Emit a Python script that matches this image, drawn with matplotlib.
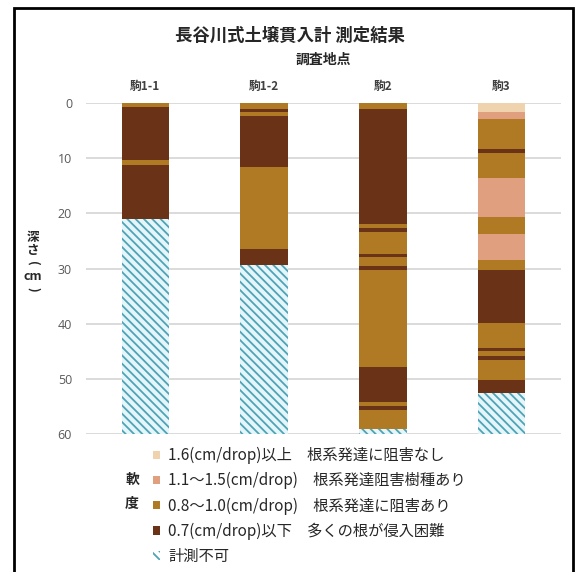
import matplotlib
matplotlib.use("Agg")
import matplotlib.pyplot as plt
from matplotlib.patches import Patch, Rectangle

plt.rcParams['font.family'] = ['Noto Sans CJK JP', 'DejaVu Sans']
plt.rcParams['hatch.linewidth'] = 1.3

# ---------------- data ----------------
sites = ['駒1-1', '駒1-2', '駒2', '駒3']

site1_bounds = [0, 0.7, 10.3, 11.2, 21.0, 60]
site1_class = ['C', 'D', 'C', 'D', 'X']

site2_bounds = [0, 1.1, 1.6, 2.4, 11.6, 26.5, 29.4, 60]
site2_class = ['C', 'D', 'C', 'D', 'C', 'D', 'X']

site3_bounds = [0, 1.0, 21.9, 22.6, 23.4, 27.4, 27.9, 29.6, 30.2, 47.9, 54.2, 55.0, 55.7, 59.1, 60]
site3_class = ['C', 'D', 'C', 'D', 'C', 'D', 'C', 'D', 'C', 'D', 'C', 'D', 'C', 'X']

site4_bounds = [0, 1.6, 2.9, 8.3, 9.1, 13.6, 20.7, 23.7, 28.5, 30.3, 39.9, 44.4, 45.0, 45.9, 46.6, 50.2, 52.6, 60]
site4_class = ['A', 'B', 'C', 'D', 'C', 'B', 'C', 'B', 'C', 'D', 'C', 'D', 'C', 'D', 'C', 'D', 'X']

class_codes = ['A', 'B', 'C', 'D', 'X']
class_labels = ['1.6(cm/drop)以上　根系発達に阻害なし',
                '1.1～1.5(cm/drop)　根系発達阻害樹種あり',
                '0.8～1.0(cm/drop)　根系発達に阻害あり',
                '0.7(cm/drop)以下　多くの根が侵入困難',
                '計測不可']
y_ticks = [0, 10, 20, 30, 40, 50, 60]

# ---------------- styles ----------------
colors = {'A': '#EFD3AE', 'B': '#E0A07F', 'C': '#B07A25', 'D': '#6A3318', 'X': '#E4F6FA'}
hatch_color = '#4FA3B6'

fig = plt.figure(figsize=(5.8, 5.72), dpi=100)
ax = fig.add_axes([86 / 580, 1 - 434 / 572, 475 / 580, 331 / 572])

all_bounds = [site1_bounds, site2_bounds, site3_bounds, site4_bounds]
all_class = [site1_class, site2_class, site3_class, site4_class]

for i, (b, c) in enumerate(zip(all_bounds, all_class)):
    for top, bot, cls in zip(b[:-1], b[1:], c):
        if cls == 'X':
            ax.bar(i, bot - top, bottom=top, width=0.4, color=colors[cls],
                   edgecolor=hatch_color, linewidth=0, hatch='\\' * 4, zorder=3)
        else:
            ax.bar(i, bot - top, bottom=top, width=0.4, color=colors[cls],
                   linewidth=0, zorder=3)

ax.set_xlim(-0.5, len(sites) - 0.5)
ax.set_ylim(60, 0)
ax.set_yticks(y_ticks)
ax.set_yticklabels([str(t) for t in y_ticks], color='#595959', fontsize=9,
                   family=['Open Sans', 'DejaVu Sans'])
ax.tick_params(axis='y', length=0, pad=10)
ax.xaxis.tick_top()
ax.set_xticks(range(len(sites)))
ax.set_xticklabels(sites, fontsize=8.5, fontweight='bold', color='#404040')
ax.tick_params(axis='x', length=0, pad=7)
ax.grid(axis='y', color='#D4D4D4', linewidth=1.2, zorder=0)
ax.set_axisbelow(True)
for s in ax.spines.values():
    s.set_visible(False)

fig.text(0.5, 1 - 36 / 572, '長谷川式土壌貫入計 測定結果', ha='center', va='center',
         fontsize=12.5, fontweight='bold', color='#262626')
fig.text(323 / 580, 1 - 60 / 572, '調査地点', ha='center', va='center',
         fontsize=10, fontweight='bold', color='#262626')

# vertical y-axis title: 深さ(cm)
ylab_parts = [('深', 0, 238), ('さ', 0, 251), ('(', -90, 263), ('cm', 0, 276), (')', -90, 289)]
for ch, rot, ypx in ylab_parts:
    fig.text(33 / 580, 1 - ypx / 572, ch, ha='center', va='center', rotation=rot,
             fontsize=9, fontweight='bold', color='#262626')

handles = []
for code, lab in zip(class_codes, class_labels):
    if code == 'X':
        handles.append(Patch(facecolor='white', edgecolor=hatch_color, linewidth=0,
                             hatch='\\' * 4, label=lab))
    else:
        handles.append(Patch(facecolor=colors[code], linewidth=0, label=lab))

leg = fig.legend(handles=handles, loc='upper left', bbox_to_anchor=(153 / 580, 1 - 447 / 572),
                 frameon=False, fontsize=11, handlelength=0.48, handleheight=0.48,
                 handletextpad=0.5, labelspacing=0.52, borderpad=0, borderaxespad=0)
for t in leg.get_texts():
    t.set_color('#262626')

fig.text(132 / 580, 1 - 480 / 572, '軟', ha='center', va='center', fontsize=10,
         fontweight='bold', color='#262626')
fig.text(132 / 580, 1 - 504 / 572, '度', ha='center', va='center', fontsize=10,
         fontweight='bold', color='#262626')

fig.patches.append(Rectangle((13.5 / 580, -0.02), (573 - 13.5) / 580, 1.02 - 8 / 572,
                             transform=fig.transFigure, fill=False, edgecolor='black',
                             linewidth=2, clip_on=False))

fig.savefig('out.png', dpi=100, facecolor='white')
